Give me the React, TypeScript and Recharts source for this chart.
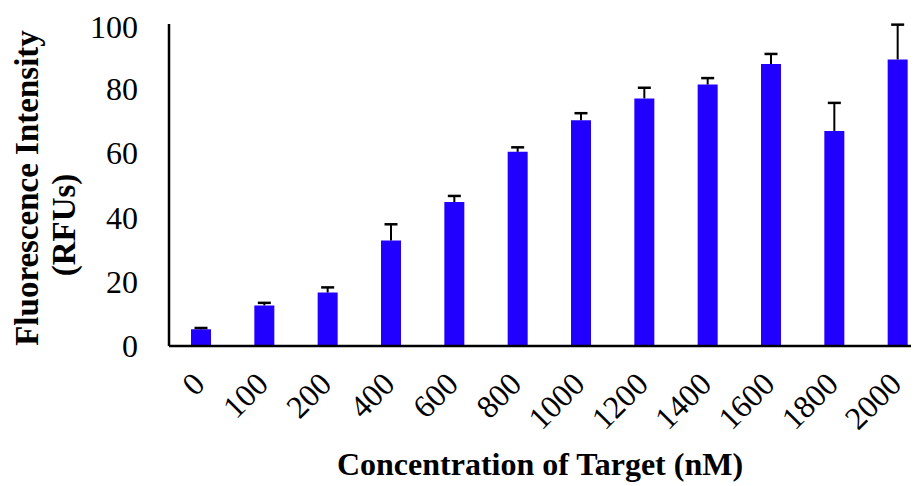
import { BarChart, Bar, XAxis, YAxis, Label } from "recharts";

const concentrations = ["0", "100", "200", "400", "600", "800", "1000", "1200", "1400", "1600", "1800", "2000"];
const intensity = [5.2, 12.6, 16.6, 32.8, 44.7, 60.3, 70.1, 76.9, 81.2, 87.6, 66.8, 89.0];
const errors = [0.4, 0.8, 1.6, 5.0, 1.9, 1.4, 2.2, 3.3, 2.0, 3.1, 8.7, 10.8];
const yTicks = [0, 20, 40, 60, 80, 100];

const data = concentrations.map((c, i) => ({
  conc: c,
  value: intensity[i],
  err: errors[i],
}));

const serif = "'Liberation Serif', 'Times New Roman', serif";

// upper whisker only, drawn as a stacked segment on top of each bar
const ErrorWhisker = (props: any) => {
  const { x, y, width, height } = props;
  if (x == null || y == null) return null;
  const cx = x + width / 2;
  return (
    <g>
      <line x1={cx} x2={cx} y1={y} y2={y + height} stroke="#000" strokeWidth={2} />
      <line x1={cx - 6.5} x2={cx + 6.5} y1={y} y2={y} stroke="#000" strokeWidth={2.5} />
    </g>
  );
};

const RotatedTick = (props: any) => {
  const { x, y, payload } = props;
  return (
    <g transform={`translate(${x + 6},${y + 40})`}>
      <text
        transform="rotate(-45)"
        textAnchor="end"
        fill="#000"
        fontSize={32}
        fontFamily={serif}
      >
        {payload.value}
      </text>
    </g>
  );
};

const YTitle = () => (
  <g fontFamily={serif} fontWeight="bold" fontSize={33} fill="#000">
    <text
      transform="translate(19,180) rotate(-90)"
      textAnchor="middle"
      dominantBaseline="central"
    >
      Fluorescence Intensity
    </text>
    <text
      transform="translate(56,217) rotate(-90)"
      textAnchor="middle"
      dominantBaseline="central"
    >
      (RFUs)
    </text>
  </g>
);

export default function App() {
  return (
    <div style={{ width: 911, height: 478, overflow: "hidden" }}>
      <BarChart
        width={921}
        height={478}
        data={data}
        margin={{ top: 16, right: 0, bottom: 0, left: 0 }}
        barSize={20}
      >
        <XAxis
          dataKey="conc"
          height={140}
          axisLine={{ stroke: "#000", strokeWidth: 2.5 }}
          tickLine={false}
          tickSize={0}
          tickMargin={0}
          interval={0}
          tick={<RotatedTick />}
        >
          <Label
            value="Concentration of Target (nM)"
            position="insideBottom"
            offset={11}
            dx={-9}
            style={{ fontFamily: serif, fontWeight: "bold", fontSize: 32, fill: "#000" }}
          />
        </XAxis>
        <YAxis
          width={161}
          domain={[0, 100]}
          ticks={yTicks}
          axisLine={{ stroke: "#000", strokeWidth: 2.5 }}
          tickLine={false}
          tickSize={0}
          tickMargin={31}
          tick={{ fill: "#000", fontSize: 32, fontFamily: serif }}
        >
          <Label content={() => <YTitle />} />
        </YAxis>
        <Bar dataKey="value" stackId="a" fill="#2200ff" isAnimationActive={false} />
        <Bar dataKey="err" stackId="a" shape={<ErrorWhisker />} isAnimationActive={false} />
      </BarChart>
    </div>
  );
}
